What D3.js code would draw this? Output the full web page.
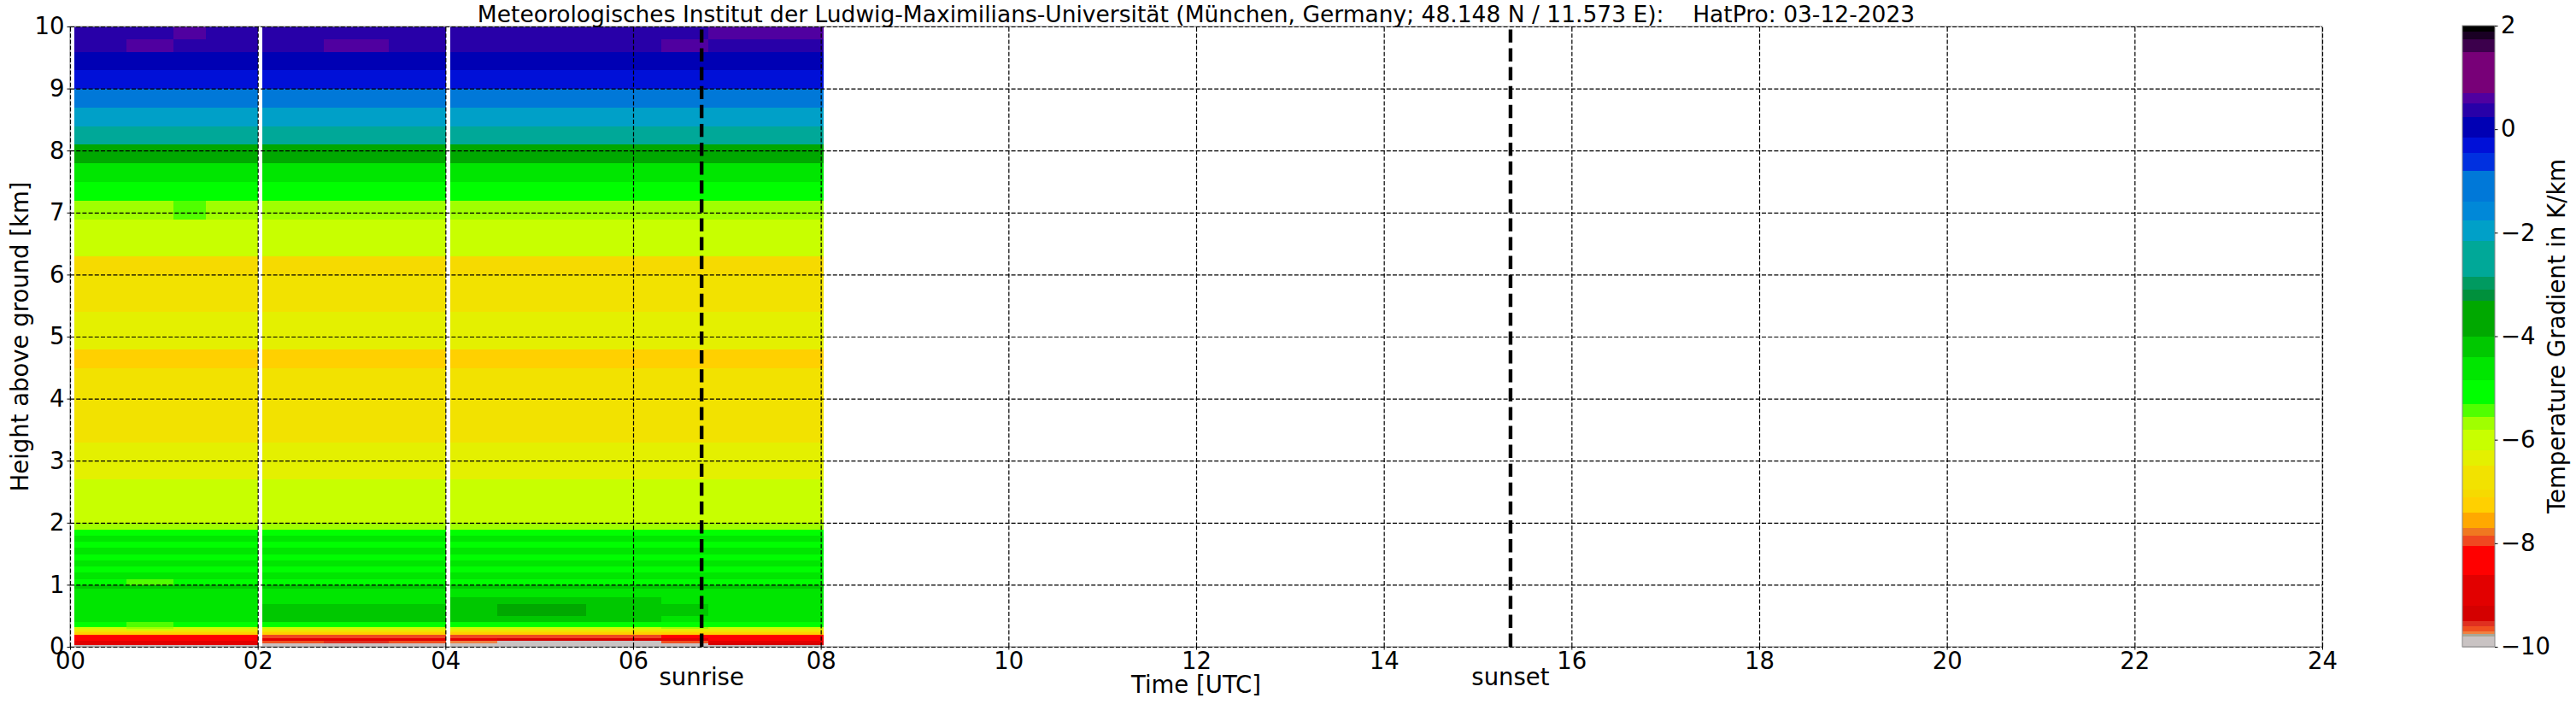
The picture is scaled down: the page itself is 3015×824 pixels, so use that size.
<!DOCTYPE html>
<html><head><meta charset="utf-8">
<script src="https://cdn.jsdelivr.net/npm/d3@7"></script>
<style>
body{margin:0;background:#fff}
svg{display:block}
text{font-family:"DejaVu Sans",sans-serif;fill:#000}
</style>
</head><body>
<script>
// ---------------- data ----------------
const titleText = "Meteorologisches Institut der Ludwig-Maximilians-Universität (München, Germany; 48.148 N / 11.573 E):    HatPro: 03-12-2023";
const xLabel = "Time [UTC]";
const yLabel = "Height above ground [km]";
const cbarLabel = "Temperature Gradient in K/km";
const xTickValues = [0,2,4,6,8,10,12,14,16,18,20,22,24];
const xTickLabels = ["00","02","04","06","08","10","12","14","16","18","20","22","24"];
const yTickValues = [0,1,2,3,4,5,6,7,8,9,10];
const cbarTickValues = [2,0,-2,-4,-6,-8,-10];
const sunEvents = [{name:"sunrise", hour:6.73},{name:"sunset", hour:15.35}];

// time columns (hours UTC); white gaps are missing data
const colStart = [0.05,0.6,1.1,1.45, 2.05,2.7,3.4, 4.05,4.55,5.5,6.3,6.8];
const colEnd   = [0.6,1.1,1.45,2.0, 2.7,3.4,4.0, 4.55,5.5,6.3,6.8,8.03];

// height bin edges (km)
const heightEdges = [0,0.03,0.06,0.1,0.15,0.2,0.24,0.27,0.3,0.33,0.4,0.5,0.6,0.7,0.8,0.9,0.95,1.0,1.1,1.2,1.3,1.4,1.5,1.6,1.7,1.8,1.9,2.0,2.2,2.4,2.7,3.0,3.3,3.6,3.9,4.2,4.5,4.8,5.1,5.4,5.7,6.0,6.3,6.6,6.9,7.2,7.5,7.8,8.1,8.4,8.7,9.0,9.3,9.6,9.8,10.0];

// temperature gradient (K/km), rows bottom->top, one value per time column
const gradient = [
[-9.9,-9.9,-9.9,-9.9,-9.9,-9.9,-9.9,-9.9,-9.9,-9.9,-9.9,-9.9],
[-9.0,-9.0,-8.9,-9.0,-9.9,-9.9,-9.9,-9.9,-9.9,-9.9,-9.9,-9.3],
[-8.9,-8.8,-8.9,-8.9,-9.65,-9.55,-9.65,-9.75,-9.9,-9.9,-9.65,-9.0],
[-8.4,-8.3,-8.4,-8.4,-8.9,-8.9,-8.9,-8.9,-9.3,-9.3,-8.9,-8.4],
[-8.1,-8.1,-8.1,-8.1,-8.0,-8.0,-8.0,-8.0,-7.95,-8.0,-8.1,-8.2],
[-7.3,-7.25,-7.3,-7.3,-7.3,-7.3,-7.3,-7.3,-7.3,-7.3,-7.3,-7.3],
[-6.9,-6.8,-6.9,-6.9,-6.9,-6.9,-6.9,-6.9,-6.9,-6.9,-6.9,-6.9],
[-6.4,-6.1,-6.4,-6.4,-6.4,-6.4,-6.4,-6.4,-6.4,-6.4,-6.3,-6.4],
[-5.9,-5.6,-5.9,-5.9,-5.9,-5.9,-5.9,-5.9,-5.9,-5.9,-5.7,-5.9],
[-5.2,-5.4,-5.2,-5.1,-5.0,-5.0,-5.0,-4.9,-4.9,-4.95,-5.1,-5.1],
[-4.6,-4.7,-4.6,-4.5,-4.3,-4.35,-4.3,-4.3,-4.1,-4.2,-4.5,-4.6],
[-4.5,-4.6,-4.5,-4.45,-4.2,-4.3,-4.25,-4.1,-3.9,-4.05,-4.3,-4.5],
[-4.5,-4.6,-4.5,-4.5,-4.2,-4.3,-4.3,-4.1,-3.9,-4.1,-4.4,-4.6],
[-4.6,-4.7,-4.6,-4.6,-4.5,-4.5,-4.5,-4.3,-4.2,-4.3,-4.5,-4.7],
[-4.7,-4.7,-4.7,-4.7,-4.7,-4.7,-4.7,-4.6,-4.5,-4.6,-4.7,-4.7],
[-4.6,-4.6,-4.6,-4.6,-4.6,-4.6,-4.6,-4.6,-4.6,-4.6,-4.6,-4.6],
[-4.3,-4.3,-4.3,-4.3,-4.3,-4.3,-4.3,-4.3,-4.3,-4.3,-4.3,-4.3],
[-5.0,-5.4,-5.1,-5.0,-4.9,-4.9,-4.9,-4.9,-4.9,-4.9,-4.9,-5.0],
[-4.6,-4.6,-4.6,-4.6,-4.6,-4.6,-4.6,-4.6,-4.6,-4.6,-4.6,-4.6],
[-4.9,-4.9,-4.9,-4.9,-4.9,-4.9,-4.9,-4.9,-4.9,-4.9,-4.9,-4.9],
[-4.7,-4.7,-4.7,-4.7,-4.7,-4.7,-4.7,-4.7,-4.7,-4.7,-4.7,-4.7],
[-4.95,-4.95,-4.95,-4.95,-4.95,-4.95,-4.95,-4.95,-4.95,-4.95,-4.95,-4.95],
[-4.7,-4.7,-4.7,-4.7,-4.7,-4.7,-4.7,-4.7,-4.7,-4.7,-4.7,-4.7],
[-5.0,-5.0,-5.0,-5.0,-5.0,-5.0,-5.0,-5.0,-5.0,-5.0,-5.0,-5.0],
[-4.8,-4.8,-4.8,-4.8,-4.8,-4.8,-4.8,-4.8,-4.8,-4.8,-4.8,-4.8],
[-5.1,-5.1,-5.1,-5.1,-5.1,-5.1,-5.1,-5.1,-5.1,-5.1,-5.1,-5.1],
[-5.7,-5.7,-5.7,-5.7,-5.7,-5.7,-5.7,-5.7,-5.7,-5.7,-5.7,-5.7],
[-5.9,-5.9,-5.9,-5.9,-5.9,-5.9,-5.9,-5.9,-5.9,-5.9,-5.9,-5.9],
[-6.0,-6.0,-6.0,-6.0,-6.0,-6.0,-6.0,-6.0,-6.0,-6.0,-6.0,-6.0],
[-6.1,-6.1,-6.1,-6.1,-6.1,-6.1,-6.1,-6.1,-6.1,-6.1,-6.1,-6.1],
[-6.25,-6.25,-6.25,-6.25,-6.25,-6.25,-6.25,-6.25,-6.25,-6.25,-6.25,-6.25],
[-6.35,-6.35,-6.35,-6.35,-6.35,-6.35,-6.35,-6.35,-6.35,-6.35,-6.35,-6.35],
[-6.55,-6.55,-6.55,-6.55,-6.55,-6.55,-6.55,-6.55,-6.55,-6.55,-6.55,-6.55],
[-6.6,-6.6,-6.6,-6.6,-6.6,-6.6,-6.6,-6.6,-6.6,-6.6,-6.6,-6.6],
[-6.7,-6.7,-6.7,-6.7,-6.7,-6.7,-6.7,-6.7,-6.7,-6.7,-6.7,-6.7],
[-6.8,-6.8,-6.8,-6.8,-6.8,-6.8,-6.8,-6.8,-6.8,-6.8,-6.8,-6.8],
[-7.15,-7.15,-7.15,-7.15,-7.15,-7.15,-7.15,-7.15,-7.15,-7.15,-7.15,-7.15],
[-6.45,-6.45,-6.45,-6.45,-6.45,-6.45,-6.45,-6.45,-6.45,-6.45,-6.45,-6.45],
[-6.4,-6.4,-6.4,-6.4,-6.4,-6.4,-6.4,-6.4,-6.4,-6.4,-6.4,-6.4],
[-6.6,-6.6,-6.6,-6.6,-6.6,-6.6,-6.6,-6.6,-6.6,-6.6,-6.6,-6.6],
[-6.7,-6.7,-6.7,-6.7,-6.7,-6.7,-6.7,-6.7,-6.7,-6.7,-6.7,-6.7],
[-7.0,-7.0,-7.0,-7.0,-7.0,-7.0,-7.0,-7.0,-7.0,-7.0,-7.0,-7.0],
[-6.1,-6.1,-6.1,-6.1,-6.1,-6.1,-6.1,-6.1,-6.1,-6.1,-6.1,-6.1],
[-5.95,-5.95,-5.95,-5.95,-5.95,-5.95,-5.95,-5.95,-5.95,-5.95,-5.95,-5.95],
[-5.7,-5.7,-5.45,-5.7,-5.7,-5.7,-5.7,-5.7,-5.7,-5.7,-5.7,-5.7],
[-5.1,-5.1,-5.1,-5.1,-5.1,-5.1,-5.1,-5.1,-5.1,-5.1,-5.1,-5.1],
[-4.6,-4.6,-4.6,-4.6,-4.6,-4.6,-4.6,-4.6,-4.6,-4.6,-4.6,-4.6],
[-3.7,-3.7,-3.7,-3.7,-3.7,-3.7,-3.7,-3.7,-3.7,-3.7,-3.7,-3.7],
[-2.5,-2.5,-2.5,-2.5,-2.5,-2.5,-2.5,-2.5,-2.5,-2.5,-2.5,-2.5],
[-1.95,-1.95,-1.95,-1.95,-1.95,-1.95,-1.95,-1.95,-1.95,-1.95,-1.95,-1.95],
[-1.1,-1.1,-1.1,-1.1,-1.1,-1.1,-1.1,-1.1,-1.1,-1.1,-1.1,-1.1],
[-0.35,-0.35,-0.35,-0.35,-0.35,-0.35,-0.35,-0.35,-0.35,-0.35,-0.35,-0.35],
[0.0,0.0,0.0,0.0,0.0,0.0,0.0,0.0,0.0,0.0,0.0,0.0],
[0.35,0.55,0.35,0.35,0.35,0.55,0.35,0.35,0.35,0.35,0.55,0.35],
[0.4,0.4,0.6,0.4,0.4,0.4,0.4,0.4,0.4,0.4,0.4,0.6]
];

// discrete colour map (upper bounds of each colour band)
const cmapThresholds = [-9.8,-9.75,-9.7,-9.6,-9.5,-9.2,-8.6,-8.05,-7.85,-7.7,-7.4,-7.1,-6.95,-6.5,-6.2,-5.8,-5.55,-5.3,-4.85,-4.4,-4.0,-3.3,-3.1,-2.85,-2.15,-1.75,-1.4,-0.8,-0.45,-0.15,0.25,0.5,0.7,1.5,1.75,1.9];
const cmapColors = ["#c9c3c3","#a8a898","#f08040","#f05020","#e03020","#d40000","#e20000","#ff0000","#f04820","#f07820","#ffa800","#ffd000","#f6da00","#f2e200","#e4f000","#c8ff00","#a0ff00","#50ff00","#00ff00","#00e600","#00c800","#00a800","#00903c","#009a60","#00a898","#00a0c8","#0088d8","#0078d8","#0030e0","#0010d8","#0000b4","#2800a8","#5000a0","#780078","#3c004c","#1a0024","#000000"];
const cbarDomain = [-10, 2];

// ---------------- drawing ----------------
const W = 3015, H = 824;
const plot = {l:82, r:2718, t:31, b:757};
const cb = {l:2882, r:2920, t:30, b:757};
const fs = 27.5;

const x = d3.scaleLinear().domain([0,24]).range([plot.l, plot.r]);
const y = d3.scaleLinear().domain([0,10]).range([plot.b, plot.t]);
const color = d3.scaleThreshold().domain(cmapThresholds).range(cmapColors);
const yc = d3.scaleLinear().domain(cbarDomain).range([cb.b, cb.t]);

const svg = d3.select("body").append("svg").attr("width", W).attr("height", H);
svg.append("rect").attr("width", W).attr("height", H).attr("fill", "#fff");

// heatmap cells
const cells = [];
gradient.forEach((row, i) => row.forEach((v, j) => cells.push({i, j, v})));
svg.append("g").attr("shape-rendering", "crispEdges")
  .selectAll("rect").data(cells).join("rect")
  .attr("x", d => x(colStart[d.j]))
  .attr("width", d => x(colEnd[d.j]) - x(colStart[d.j]) + 0.5)
  .attr("y", d => y(heightEdges[d.i + 1]))
  .attr("height", d => y(heightEdges[d.i]) - y(heightEdges[d.i + 1]) + 0.5)
  .attr("fill", d => color(d.v));

// spines
svg.append("rect").attr("x", plot.l).attr("y", plot.t)
  .attr("width", plot.r - plot.l).attr("height", plot.b - plot.t)
  .attr("fill", "none").attr("stroke", "#a0a0a0").attr("stroke-width", 1.2);

// grid (dashed) via axes
const gx = svg.append("g").attr("transform", `translate(0,${plot.b})`)
  .call(d3.axisBottom(x).tickValues(xTickValues).tickSize(-(plot.b - plot.t)).tickFormat(""));
const gy = svg.append("g").attr("transform", `translate(${plot.l},0)`)
  .call(d3.axisLeft(y).tickValues(yTickValues).tickSize(-(plot.r - plot.l)).tickFormat(""));
[gx, gy].forEach(g => {
  g.select(".domain").remove();
  g.selectAll(".tick line").attr("stroke", "#000").attr("stroke-width", 1.2)
    .attr("stroke-dasharray", "5,2.2");
});

// sunrise / sunset lines
svg.append("g").selectAll("line").data(sunEvents).join("line")
  .attr("x1", d => x(d.hour)).attr("x2", d => x(d.hour))
  .attr("y1", plot.b).attr("y2", plot.t)
  .attr("stroke", "#000").attr("stroke-width", 4.4)
  .attr("stroke-dasharray", "15.4,6.7");
svg.append("g").selectAll("text").data(sunEvents).join("text")
  .attr("x", d => x(d.hour)).attr("y", 802)
  .attr("text-anchor", "middle").attr("font-size", fs)
  .text(d => d.name);

// tick axes
const ax = svg.append("g").attr("transform", `translate(0,${plot.b})`)
  .call(d3.axisBottom(x).tickValues(xTickValues).tickSize(3.5).tickPadding(2.5)
    .tickFormat((d, i) => xTickLabels[i]));
const ay = svg.append("g").attr("transform", `translate(${plot.l},0)`)
  .call(d3.axisLeft(y).tickValues(yTickValues).tickSize(3.5).tickPadding(3)
    .tickFormat(d3.format("d")));
[ax, ay].forEach(g => {
  g.select(".domain").remove();
  g.selectAll(".tick line").attr("stroke", "#000");
  g.selectAll("text").attr("font-size", fs).attr("font-family", "DejaVu Sans").attr("fill", "#000");
});

// axis labels
svg.append("text").attr("x", (plot.l + plot.r) / 2).attr("y", 811)
  .attr("text-anchor", "middle").attr("font-size", fs).text(xLabel);
svg.append("text").attr("transform", `translate(33,${(plot.t + plot.b) / 2}) rotate(-90)`)
  .attr("text-anchor", "middle").attr("font-size", fs).text(yLabel);

// title
svg.append("text").attr("x", (plot.l + plot.r) / 2).attr("y", 26)
  .attr("text-anchor", "middle").attr("font-size", 26.5)
  .style("white-space", "pre").text(titleText);

// colour bar
const bands = cmapColors.map((c, k) => ({
  c,
  lo: k === 0 ? cbarDomain[0] : cmapThresholds[k - 1],
  hi: k === cmapColors.length - 1 ? cbarDomain[1] : cmapThresholds[k]
}));
svg.append("g").attr("shape-rendering", "crispEdges")
  .selectAll("rect").data(bands).join("rect")
  .attr("x", cb.l).attr("width", cb.r - cb.l)
  .attr("y", d => yc(d.hi)).attr("height", d => yc(d.lo) - yc(d.hi) + 0.5)
  .attr("fill", d => d.c);
svg.append("rect").attr("x", cb.l).attr("y", cb.t).attr("width", cb.r - cb.l)
  .attr("height", cb.b - cb.t).attr("fill", "none").attr("stroke", "#888").attr("stroke-width", 1);
const ac = svg.append("g").attr("transform", `translate(${cb.r},0)`)
  .call(d3.axisRight(yc).tickValues(cbarTickValues).tickSize(3.5).tickPadding(3.5)
    .tickFormat(d => d < 0 ? "\u2212" + Math.abs(d) : String(d)));
ac.select(".domain").remove();
ac.selectAll(".tick line").attr("stroke", "#000");
ac.selectAll("text").attr("font-size", fs).attr("font-family", "DejaVu Sans").attr("fill", "#000");
svg.append("text").attr("transform", `translate(2992,${(cb.t + cb.b) / 2}) rotate(-90)`)
  .attr("text-anchor", "middle").attr("dominant-baseline", "central")
  .attr("font-size", fs).text(cbarLabel);
</script>
</body></html>
